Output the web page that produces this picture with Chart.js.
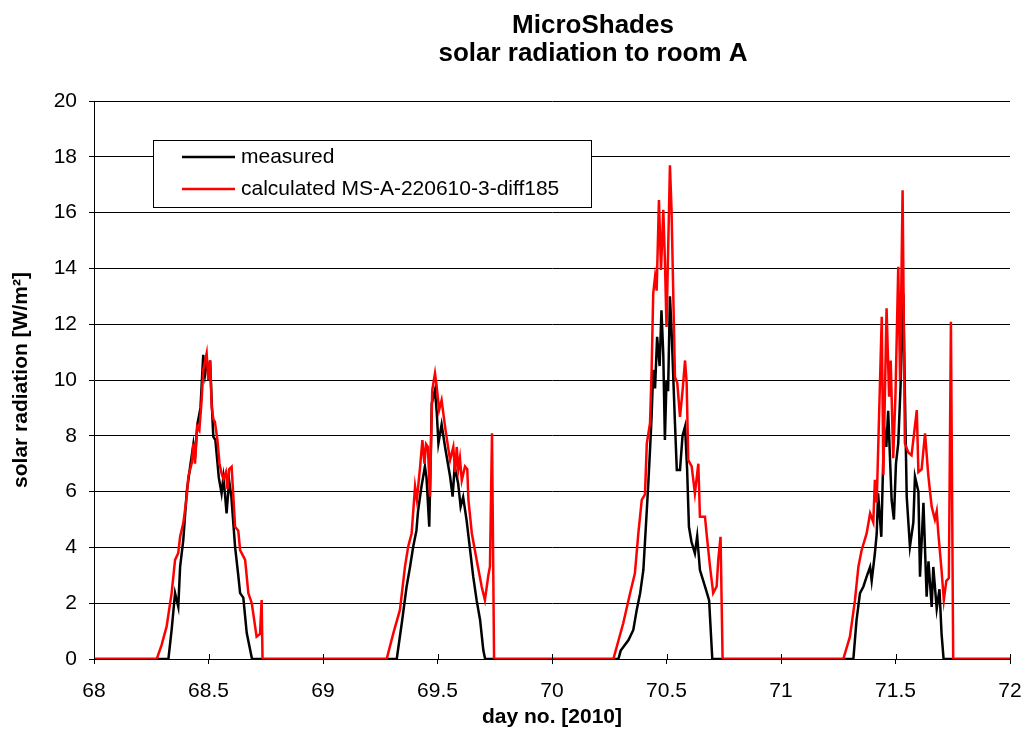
<!DOCTYPE html>
<html><head><meta charset="utf-8">
<script src="https://cdn.jsdelivr.net/npm/chart.js@4.4.1/dist/chart.umd.min.js"></script>
<style>html,body{margin:0;padding:0;background:#fff}#wrap{width:1028px;height:743px;position:relative}</style>
</head><body><div id="wrap"><canvas id="c" width="1028" height="743"></canvas></div>
<script>
const titleLines = ['MicroShades', 'solar radiation to room A'];
const xAxisTitle = 'day no. [2010]';
const yAxisTitle = 'solar radiation [W/m²]';
const seriesNames = ['measured', 'calculated MS-A-220610-3-diff185'];
const xTicks = [68, 68.5, 69, 69.5, 70, 70.5, 71, 71.5, 72];
const yTicks = [0, 2, 4, 6, 8, 10, 12, 14, 16, 18, 20];

const measuredDay = [68,68.325,68.339,68.354,68.368,68.376,68.39,68.405,68.42,68.434,68.441,68.451,68.465,68.477,68.485,68.492,68.5,68.507,68.514,68.521,68.53,68.545,68.557,68.565,68.572,68.579,68.59,68.6,68.616,68.63,68.638,68.652,68.667,68.69,
69.322,69.344,69.365,69.38,69.394,69.408,69.415,69.43,69.445,69.452,69.464,69.475,69.489,69.497,69.504,69.518,69.533,69.555,69.566,69.575,69.59,69.601,69.612,69.627,69.641,69.656,69.671,69.686,69.7,69.708,
70.29,70.3,70.334,70.355,70.37,70.385,70.399,70.414,70.42,70.428,70.435,70.442,70.45,70.459,70.47,70.478,70.486,70.493,70.5,70.507,70.515,70.522,70.537,70.545,70.559,70.57,70.581,70.59,70.598,70.609,70.624,70.634,70.646,70.668,70.686,70.7,
71.316,71.33,71.345,71.36,71.374,71.389,71.396,71.41,71.418,71.424,71.438,71.45,71.46,71.468,71.483,71.493,71.502,71.512,71.522,71.534,71.541,71.549,71.563,71.578,71.585,71.6,71.607,71.622,71.636,71.644,71.658,71.665,71.68,71.692,71.701,71.71,72];
const measuredVal = [0,0,1.04,2.36,1.87,3.3,4.27,6.0,6.9,7.7,7.2,8.4,9.0,10.9,10.2,10.6,10.3,10.7,9.2,7.97,7.85,6.5,5.94,6.5,5.9,5.22,6.4,5.8,4.03,3.0,2.36,2.2,0.93,0,
0,1.28,2.59,3.3,4.03,4.6,5.3,6.18,6.9,6.5,4.74,9.16,9.64,8.8,7.73,8.4,7.6,6.54,5.82,6.9,6.3,5.46,5.8,4.98,4.0,2.95,2.1,1.4,0.32,0,
0,0.3,0.68,1.04,1.76,2.36,3.19,5.34,6.2,7.49,8.7,10.36,9.7,11.55,10.5,12.5,10.9,7.85,10.0,9.6,13.0,11.8,8.45,6.77,6.77,8.0,8.33,6.8,4.74,4.2,3.79,4.4,3.19,2.6,2.11,0,
0,1.4,2.36,2.6,2.95,3.3,2.8,3.79,4.5,5.94,4.38,8.33,7.6,8.9,5.7,5.0,7.0,7.73,9.76,13.1,9.5,5.82,4.03,4.9,6.54,6.0,2.95,5.6,2.23,3.5,1.87,3.3,1.8,2.5,0.92,0,0];

const calcDay = [68,68.274,68.295,68.317,68.339,68.354,68.368,68.376,68.39,68.405,68.412,68.427,68.434,68.441,68.451,68.46,68.47,68.477,68.492,68.499,68.507,68.514,68.521,68.528,68.539,68.548,68.557,68.565,68.576,68.583,68.59,68.601,68.608,68.616,68.63,68.638,68.66,68.674,68.689,68.71,68.725,68.732,68.736,
69.278,69.307,69.336,69.358,69.372,69.387,69.402,69.41,69.424,69.434,69.443,69.45,69.458,69.467,69.477,69.489,69.496,69.507,69.518,69.533,69.548,69.555,69.569,69.577,69.584,69.591,69.598,69.606,69.62,69.63,69.635,69.65,69.671,69.693,69.707,69.722,69.729,69.738,69.747,
70.268,70.311,70.341,70.362,70.377,70.392,70.406,70.414,70.428,70.435,70.442,70.45,70.457,70.467,70.476,70.486,70.493,70.5,70.515,70.522,70.537,70.547,70.559,70.57,70.581,70.588,70.595,70.61,70.624,70.639,70.646,70.668,70.675,70.69,70.704,70.719,70.726,70.736,70.745,
71.272,71.301,71.323,71.338,71.352,71.374,71.389,71.403,71.41,71.418,71.44,71.447,71.461,71.472,71.479,71.49,71.5,71.512,71.52,71.531,71.541,71.556,71.57,71.593,71.6,71.614,71.629,71.643,71.658,71.672,71.68,71.687,71.701,71.711,71.722,71.733,71.742,71.752,72];
const calcVal = [0,0,0.5,1.16,2.36,3.55,3.8,4.38,4.87,5.82,6.54,7.02,7.73,7.0,8.33,8.2,9.28,10.36,10.96,10.0,10.7,9.04,8.6,8.5,7.85,7.0,6.66,6.45,6.7,6.1,6.8,6.89,5.9,4.74,4.6,3.9,3.55,2.36,2.0,0.8,0.9,2.11,0,
0,0.92,1.76,3.31,4.03,4.5,6.18,5.7,6.89,7.85,7.0,7.7,7.6,5.82,9.64,10.24,9.8,8.92,9.28,8.33,7.5,7.13,7.6,6.7,7.6,6.8,7.2,6.4,6.9,6.8,5.7,4.5,3.55,2.59,2.11,3.0,3.31,8.09,0,
0,1.28,2.36,3.07,4.5,5.7,5.9,7.73,8.45,10.36,13.1,13.7,13.2,16.45,13.94,16.1,14.3,11.9,17.7,16.1,10.1,9.9,8.68,9.6,10.7,9.9,7.13,6.9,5.94,7.0,5.1,5.1,4.5,3.31,2.36,2.6,3.55,4.38,0,
0,0.8,2.11,3.31,3.9,4.5,5.22,4.9,6.42,5.6,12.27,6.6,12.57,9.4,10.7,7.2,9.5,14.06,10.0,16.8,7.73,7.4,7.3,8.92,6.7,6.8,8.09,6.6,5.46,5.0,5.3,4.5,3.19,2.11,2.8,2.9,12.09,0,0];

const FONT = 'Liberation Sans, Arial, sans-serif';
const seriesColors = ['#000000', '#ff0000'];

const overlayPlugin = {
  id: 'overlay',
  afterDraw(chart) {
    const ctx = chart.ctx;
    const xs = chart.scales.x;
    const area = chart.chartArea;
    ctx.save();
    ctx.strokeStyle = '#000'; ctx.lineWidth = 1;
    xTicks.forEach(t => {
      const px = Math.round(xs.getPixelForValue(t)) + 0.5;
      ctx.beginPath(); ctx.moveTo(px, area.bottom); ctx.lineTo(px, area.bottom - 5); ctx.stroke();
    });
    ctx.fillStyle = '#000';
    ctx.font = 'bold 26px ' + FONT;
    ctx.textAlign = 'center'; ctx.textBaseline = 'alphabetic';
    ctx.fillText(titleLines[0], 593, 33);
    ctx.fillText(titleLines[1], 593, 61);
    const bx = 153.5, by = 140.5, bw = 438, bh = 67;
    ctx.fillStyle = '#fff'; ctx.fillRect(bx, by, bw, bh);
    ctx.strokeStyle = '#000'; ctx.lineWidth = 1; ctx.strokeRect(bx, by, bw, bh);
    ctx.font = '21px ' + FONT; ctx.textAlign = 'left'; ctx.textBaseline = 'middle';
    const rows = [157, 189];
    seriesNames.forEach((n, i) => {
      ctx.strokeStyle = seriesColors[i]; ctx.lineWidth = 2.5;
      ctx.beginPath(); ctx.moveTo(182, rows[i]); ctx.lineTo(235, rows[i]); ctx.stroke();
      ctx.fillStyle = '#000'; ctx.fillText(n, 241, rows[i]);
    });
    ctx.restore();
  }
};

new Chart(document.getElementById('c'), {
  type: 'line',
  data: {
    datasets: [
      { label: seriesNames[0], data: measuredDay.map((d, i) => ({x: d, y: measuredVal[i]})),
        borderColor: seriesColors[0], borderWidth: 2.5, pointRadius: 0, tension: 0, fill: false, order: 1 },
      { label: seriesNames[1], data: calcDay.map((d, i) => ({x: d, y: calcVal[i]})),
        borderColor: seriesColors[1], borderWidth: 2.5, pointRadius: 0, tension: 0, fill: false, order: 0 }
    ]
  },
  options: {
    responsive: false, animation: false, devicePixelRatio: 1,
    layout: { padding: { left: 0, right: 18, top: 101, bottom: 0 } },
    plugins: { legend: { display: false }, tooltip: { enabled: false }, title: { display: false } },
    scales: {
      x: {
        type: 'linear', min: 68, max: 72,
        afterBuildTicks: s => { s.ticks = xTicks.map(v => ({ value: v })); },
        afterFit: s => { s.height = 84; s.paddingLeft = 0; s.paddingRight = 0; },
        ticks: { color: '#000', font: { family: FONT, size: 21 }, padding: 15, maxRotation: 0, autoSkip: false,
                 callback: v => String(v) },
        grid: { drawOnChartArea: false, drawTicks: true, tickLength: 5, color: '#000' },
        border: { display: true, color: '#000', width: 1 },
        title: { display: true, text: xAxisTitle, color: '#000', font: { family: FONT, size: 21, weight: 'bold' },
                 padding: { top: 0, bottom: 13 } }
      },
      y: {
        type: 'linear', min: 0, max: 20,
        afterBuildTicks: s => { s.ticks = yTicks.map(v => ({ value: v })); },
        afterFit: s => { s.width = 94; s.paddingTop = 0; s.paddingBottom = 0; },
        ticks: { color: '#000', font: { family: FONT, size: 21 }, padding: 12, autoSkip: false,
                 callback: v => String(v) },
        grid: { drawOnChartArea: true, drawTicks: true, tickLength: 5, color: '#000', lineWidth: 1 },
        border: { display: true, color: '#000', width: 1 },
        title: { display: true, text: yAxisTitle, color: '#000', font: { family: FONT, size: 21, weight: 'bold' },
                 padding: { top: 9, bottom: 0 } }
      }
    }
  },
  plugins: [overlayPlugin]
});
</script></body></html>
